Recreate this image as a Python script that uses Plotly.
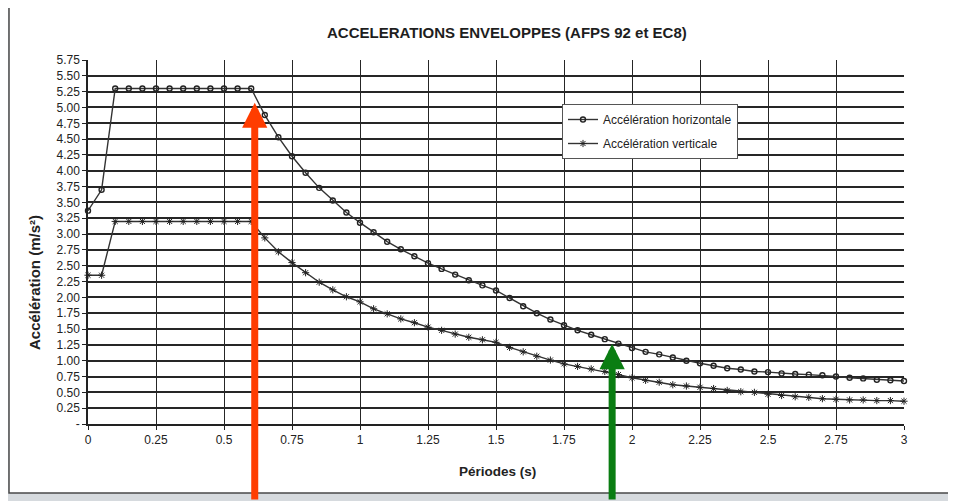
import plotly.graph_objects as go

periods = [0, 0.05, 0.10, 0.15, 0.20, 0.25, 0.30, 0.35, 0.40, 0.45, 0.50, 0.55, 0.60,
           0.65, 0.70, 0.75, 0.80, 0.85, 0.90, 0.95, 1.00, 1.05, 1.10, 1.15, 1.20,
           1.25, 1.30, 1.35, 1.40, 1.45, 1.50, 1.55, 1.60, 1.65, 1.70, 1.75, 1.80,
           1.85, 1.90, 1.95, 2.00, 2.05, 2.10, 2.15, 2.20, 2.25, 2.30, 2.35, 2.40,
           2.45, 2.50, 2.55, 2.60, 2.65, 2.70, 2.75, 2.80, 2.85, 2.90, 2.95, 3.00]

acc_horizontale = [3.37, 3.70, 5.30, 5.30, 5.30, 5.30, 5.30, 5.30, 5.30, 5.30, 5.30, 5.30, 5.30,
                   4.88, 4.53, 4.23, 3.97, 3.73, 3.53, 3.34, 3.18, 3.03, 2.88, 2.76, 2.65,
                   2.54, 2.45, 2.36, 2.27, 2.19, 2.11, 1.99, 1.86, 1.75, 1.65, 1.56, 1.48,
                   1.41, 1.34, 1.27, 1.20, 1.14, 1.10, 1.05, 1.00, 0.96, 0.92, 0.88, 0.86,
                   0.83, 0.82, 0.80, 0.79, 0.78, 0.77, 0.75, 0.73, 0.72, 0.70, 0.69, 0.68]

acc_verticale = [2.35, 2.35, 3.20, 3.20, 3.20, 3.20, 3.20, 3.20, 3.20, 3.20, 3.20, 3.20, 3.20,
                 2.94, 2.72, 2.55, 2.39, 2.24, 2.12, 2.01, 1.93, 1.82, 1.74, 1.66, 1.60,
                 1.53, 1.48, 1.42, 1.37, 1.33, 1.29, 1.21, 1.14, 1.07, 1.01, 0.95, 0.91,
                 0.87, 0.83, 0.78, 0.73, 0.69, 0.66, 0.62, 0.60, 0.58, 0.56, 0.53, 0.51,
                 0.50, 0.47, 0.45, 0.43, 0.42, 0.40, 0.39, 0.38, 0.38, 0.37, 0.37, 0.36]

x_ticks = [0, 0.25, 0.5, 0.75, 1, 1.25, 1.5, 1.75, 2, 2.25, 2.5, 2.75, 3]
x_ticklabels = ["0", "0.25", "0.5", "0.75", "1", "1.25", "1.5", "1.75", "2", "2.25", "2.5", "2.75", "3"]
y_ticks = [0, 0.25, 0.5, 0.75, 1, 1.25, 1.5, 1.75, 2, 2.25, 2.5, 2.75, 3, 3.25, 3.5,
           3.75, 4, 4.25, 4.5, 4.75, 5, 5.25, 5.5, 5.75]
y_ticklabels = ["-", "0.25", "0.50", "0.75", "1.00", "1.25", "1.50", "1.75", "2.00", "2.25",
                "2.50", "2.75", "3.00", "3.25", "3.50", "3.75", "4.00", "4.25", "4.50",
                "4.75", "5.00", "5.25", "5.50", "5.75"]

title_text = "ACCELERATIONS ENVELOPPES (AFPS 92 et EC8)"
x_title = "Périodes (s)"
y_title = "Accélération (m/s²)"
name_h = "Accélération horizontale"
name_v = "Accélération verticale"

FONT = "Liberation Sans Narrow, Arial Narrow, Liberation Sans, Arial, sans-serif"
INK = "#333333"

fig = go.Figure()
fig.add_trace(go.Scatter(
    x=periods, y=acc_horizontale, name=name_h, mode="lines+markers",
    line=dict(color=INK, width=1.4),
    marker=dict(symbol="circle-open", size=5, color="#222", line=dict(width=1.4)),
    cliponaxis=False, legendgroup="h"))
fig.add_trace(go.Scatter(
    x=periods, y=acc_verticale, name=name_v, mode="lines+markers",
    line=dict(color=INK, width=1.4),
    marker=dict(symbol="asterisk-open", size=6, color="#222", line=dict(width=1, color="#222")),
    cliponaxis=False, legendgroup="v"))

# page offset (body margin) of 8 px
OFF = 8
W, H = 956 - OFF, 501 - OFF
L, R, T, B = 88 - OFF, 52, 60 - OFF, 77
pw, ph = W - L - R, H - T - B


def px(xp):
    return (xp - OFF - L) / pw


def py(yp):
    return (H - B - (yp - OFF)) / ph


fig.update_layout(
    width=W, height=H,
    margin=dict(l=L, r=R, t=T, b=B, pad=0),
    paper_bgcolor="#d6dade",
    plot_bgcolor="white",
    font=dict(family=FONT, color="#222", size=12),
    showlegend=True,
    legend=dict(x=px(562), y=py(104), xanchor="left", yanchor="top",
                bgcolor="white", bordercolor="#555", borderwidth=1,
                font=dict(size=12, family=FONT, color="#222"),
                tracegroupgap=5, itemwidth=30),
    xaxis=dict(range=[0, 3], tickvals=x_ticks, ticktext=x_ticklabels,
               showgrid=True, gridcolor="#262626", gridwidth=1.3,
               zeroline=False, showline=True, linecolor="#222", linewidth=1.5,
               ticks="outside", ticklen=4, tickcolor="#222", tickwidth=1,
               tickfont=dict(size=12, family=FONT, color="#222"), mirror=False),
    yaxis=dict(range=[0, 5.75], tickvals=y_ticks, ticktext=y_ticklabels,
               showgrid=True, gridcolor="#262626", gridwidth=1.7,
               zeroline=False, showline=True, linecolor="#222", linewidth=1.5,
               ticks="outside", ticklen=4, tickcolor="#222", tickwidth=1,
               tickfont=dict(size=12, family=FONT, color="#222")),
    shapes=[dict(type="rect", xref="paper", yref="paper", layer="below",
                 x0=px(9), x1=px(950), y0=py(493), y1=py(5),
                 fillcolor="white", line=dict(color="#4a4a4a", width=1.5))],
)

fig.add_annotation(text="<b>" + title_text + "</b>", xref="paper", yref="paper", x=px(507), y=py(32),
                   showarrow=False, font=dict(size=15, family="Liberation Sans, Arial", color="#1e1e1e"),
                   xanchor="center", yanchor="middle")
fig.add_annotation(text="<b>" + x_title + "</b>", xref="paper", yref="paper", x=px(497), y=py(471),
                   showarrow=False, font=dict(size=13.5, family=FONT, color="#222"),
                   xanchor="center", yanchor="middle")
fig.add_annotation(text="<b>" + y_title + "</b>", xref="paper", yref="paper", x=px(34), y=py(283),
                   showarrow=False, textangle=-90, font=dict(size=15, family=FONT, color="#222"),
                   xanchor="center", yanchor="middle")

# Highlight arrows drawn over the chart
fig.add_annotation(x=0.613, y=5.076, xref="x", yref="y", text="", showarrow=True,
                   ax=0, ay=410, arrowhead=2, arrowsize=0.72, arrowwidth=7,
                   arrowcolor="#ff3d00", standoff=0)
fig.add_annotation(x=1.927, y=1.264, xref="x", yref="y", text="", showarrow=True,
                   ax=0, ay=170, arrowhead=2, arrowsize=0.72, arrowwidth=7,
                   arrowcolor="#0a7d12", standoff=0)

fig.write_html("out.html")
